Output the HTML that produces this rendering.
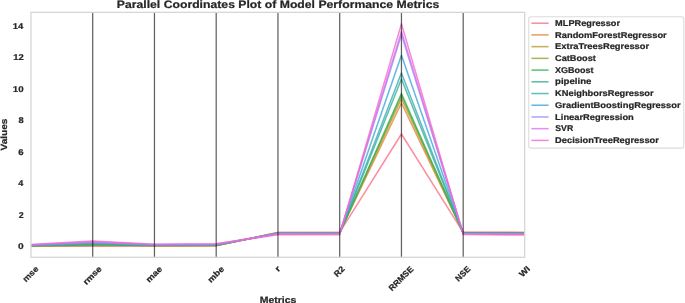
<!DOCTYPE html>
<html><head><meta charset="utf-8"><title>Parallel Coordinates Plot</title>
<style>html,body{margin:0;padding:0;background:#fff;width:685px;height:303px;overflow:hidden}svg{display:block;will-change:transform}text{font-family:"Liberation Sans",sans-serif;font-weight:bold;text-rendering:geometricPrecision}</style>
</head><body>
<svg width="685" height="303" viewBox="0 0 685 303">
<rect width="685" height="303" fill="#fff"/>
<defs><clipPath id="c"><rect x="30.95" y="12.35" width="493.75" height="244.95"/></clipPath></defs>
<g clip-path="url(#c)" fill="none" stroke-width="1.55" stroke-opacity="0.78" stroke-linejoin="round">
<polyline points="30.95,246.10 92.70,246.30 154.45,246.00 216.20,245.80 277.95,232.50 339.70,232.40 401.45,134.00 463.20,232.30 524.95,232.40" stroke="#f77189"/>
<polyline points="30.95,246.00 92.70,245.60 154.45,245.80 216.20,245.60 277.95,232.60 339.70,232.50 401.45,103.00 463.20,232.40 524.95,232.50" stroke="#e18632"/>
<polyline points="30.95,245.90 92.70,245.20 154.45,245.70 216.20,245.50 277.95,232.80 339.70,232.70 401.45,98.50 463.20,232.60 524.95,232.70" stroke="#b59a32"/>
<polyline points="30.95,245.80 92.70,244.90 154.45,245.60 216.20,245.40 277.95,232.90 339.70,232.80 401.45,95.50 463.20,232.70 524.95,232.80" stroke="#8ba731"/>
<polyline points="30.95,245.70 92.70,244.40 154.45,245.50 216.20,245.20 277.95,233.30 339.70,233.20 401.45,93.50 463.20,233.10 524.95,233.30" stroke="#32b258"/>
<polyline points="30.95,245.50 92.70,243.90 154.45,245.30 216.20,245.00 277.95,233.40 339.70,233.30 401.45,79.00 463.20,233.20 524.95,233.40" stroke="#35ae95"/>
<polyline points="30.95,245.40 92.70,243.60 154.45,245.20 216.20,244.90 277.95,233.40 339.70,233.30 401.45,73.00 463.20,233.20 524.95,233.50" stroke="#37abb2"/>
<polyline points="30.95,245.20 92.70,243.00 154.45,245.00 216.20,244.70 277.95,233.50 339.70,233.40 401.45,55.30 463.20,233.30 524.95,233.70" stroke="#39a7d6"/>
<polyline points="30.95,245.00 92.70,242.40 154.45,244.80 216.20,244.40 277.95,233.60 339.70,233.50 401.45,34.50 463.20,233.40 524.95,233.90" stroke="#8f93f4"/>
<polyline points="30.95,244.70 92.70,241.70 154.45,244.60 216.20,244.10 277.95,233.70 339.70,233.60 401.45,31.50 463.20,233.50 524.95,234.10" stroke="#db70f4"/>
<polyline points="30.95,244.40 92.70,241.00 154.45,244.30 216.20,243.80 277.95,234.70 339.70,234.60 401.45,23.90 463.20,234.50 524.95,235.00" stroke="#f667c6"/>
</g>
<line x1="92.70" y1="12.35" x2="92.70" y2="257.3" stroke="#000" stroke-opacity="0.62" stroke-width="1.25"/>
<line x1="154.45" y1="12.35" x2="154.45" y2="257.3" stroke="#000" stroke-opacity="0.62" stroke-width="1.25"/>
<line x1="216.20" y1="12.35" x2="216.20" y2="257.3" stroke="#000" stroke-opacity="0.62" stroke-width="1.25"/>
<line x1="277.95" y1="12.35" x2="277.95" y2="257.3" stroke="#000" stroke-opacity="0.62" stroke-width="1.25"/>
<line x1="339.70" y1="12.35" x2="339.70" y2="257.3" stroke="#000" stroke-opacity="0.62" stroke-width="1.25"/>
<line x1="401.45" y1="12.35" x2="401.45" y2="257.3" stroke="#000" stroke-opacity="0.62" stroke-width="1.25"/>
<line x1="463.20" y1="12.35" x2="463.20" y2="257.3" stroke="#000" stroke-opacity="0.62" stroke-width="1.25"/>
<rect x="30.95" y="12.35" width="493.75" height="244.95" fill="none" stroke="#d6d6d6" stroke-width="1.3"/>
<text x="18.05" y="249.30" font-size="8.40" font-family="&quot;Liberation Sans&quot;, sans-serif" font-weight="bold" stroke="#262626" stroke-width="0.22" stroke-linejoin="round" fill="#262626" textLength="5.67" lengthAdjust="spacingAndGlyphs" >0</text>
<text x="18.75" y="217.86" font-size="8.40" font-family="&quot;Liberation Sans&quot;, sans-serif" font-weight="bold" stroke="#262626" stroke-width="0.22" stroke-linejoin="round" fill="#262626" textLength="4.91" lengthAdjust="spacingAndGlyphs" >2</text>
<text x="18.32" y="186.32" font-size="8.40" font-family="&quot;Liberation Sans&quot;, sans-serif" font-weight="bold" stroke="#262626" stroke-width="0.22" stroke-linejoin="round" fill="#262626" textLength="5.03" lengthAdjust="spacingAndGlyphs" >4</text>
<text x="18.28" y="154.80" font-size="8.40" font-family="&quot;Liberation Sans&quot;, sans-serif" font-weight="bold" stroke="#262626" stroke-width="0.22" stroke-linejoin="round" fill="#262626" textLength="5.37" lengthAdjust="spacingAndGlyphs" >6</text>
<text x="18.42" y="123.30" font-size="8.40" font-family="&quot;Liberation Sans&quot;, sans-serif" font-weight="bold" stroke="#262626" stroke-width="0.22" stroke-linejoin="round" fill="#262626" textLength="5.17" lengthAdjust="spacingAndGlyphs" >8</text>
<text x="12.83" y="91.80" font-size="8.40" font-family="&quot;Liberation Sans&quot;, sans-serif" font-weight="bold" stroke="#262626" stroke-width="0.22" stroke-linejoin="round" fill="#262626" textLength="10.88" lengthAdjust="spacingAndGlyphs" >10</text>
<text x="13.17" y="60.36" font-size="8.40" font-family="&quot;Liberation Sans&quot;, sans-serif" font-weight="bold" stroke="#262626" stroke-width="0.22" stroke-linejoin="round" fill="#262626" textLength="10.53" lengthAdjust="spacingAndGlyphs" >12</text>
<text x="12.85" y="28.82" font-size="8.40" font-family="&quot;Liberation Sans&quot;, sans-serif" font-weight="bold" stroke="#262626" stroke-width="0.22" stroke-linejoin="round" fill="#262626" textLength="10.52" lengthAdjust="spacingAndGlyphs" >14</text>
<text x="-9.32" y="2.23" font-size="8.40" font-family="&quot;Liberation Sans&quot;, sans-serif" font-weight="bold" stroke="#262626" stroke-width="0.22" stroke-linejoin="round" fill="#262626" textLength="18.37" lengthAdjust="spacingAndGlyphs" transform="translate(31.06,274.31) rotate(-45)">mse</text>
<text x="-11.31" y="2.23" font-size="8.40" font-family="&quot;Liberation Sans&quot;, sans-serif" font-weight="bold" stroke="#262626" stroke-width="0.22" stroke-linejoin="round" fill="#262626" textLength="22.34" lengthAdjust="spacingAndGlyphs" transform="translate(92.82,275.70) rotate(-45)">rmse</text>
<text x="-9.66" y="2.23" font-size="8.40" font-family="&quot;Liberation Sans&quot;, sans-serif" font-weight="bold" stroke="#262626" stroke-width="0.22" stroke-linejoin="round" fill="#262626" textLength="19.05" lengthAdjust="spacingAndGlyphs" transform="translate(154.56,274.53) rotate(-45)">mae</text>
<text x="-9.83" y="3.00" font-size="8.40" font-family="&quot;Liberation Sans&quot;, sans-serif" font-weight="bold" stroke="#262626" stroke-width="0.22" stroke-linejoin="round" fill="#262626" textLength="19.39" lengthAdjust="spacingAndGlyphs" transform="translate(215.76,274.07) rotate(-45)">mbe</text>
<text x="-2.30" y="2.27" font-size="8.40" font-family="&quot;Liberation Sans&quot;, sans-serif" font-weight="bold" stroke="#262626" stroke-width="0.22" stroke-linejoin="round" fill="#262626" textLength="4.07" lengthAdjust="spacingAndGlyphs" transform="translate(278.15,268.98) rotate(-45)">r</text>
<text x="-5.73" y="2.94" font-size="8.40" font-family="&quot;Liberation Sans&quot;, sans-serif" font-weight="bold" stroke="#262626" stroke-width="0.22" stroke-linejoin="round" fill="#262626" textLength="11.28" lengthAdjust="spacingAndGlyphs" transform="translate(339.17,271.44) rotate(-45)">R2</text>
<text x="-15.66" y="2.90" font-size="8.40" font-family="&quot;Liberation Sans&quot;, sans-serif" font-weight="bold" stroke="#262626" stroke-width="0.22" stroke-linejoin="round" fill="#262626" textLength="31.07" lengthAdjust="spacingAndGlyphs" transform="translate(401.00,278.44) rotate(-45)">RRMSE</text>
<text x="-8.85" y="2.90" font-size="8.40" font-family="&quot;Liberation Sans&quot;, sans-serif" font-weight="bold" stroke="#262626" stroke-width="0.22" stroke-linejoin="round" fill="#262626" textLength="17.46" lengthAdjust="spacingAndGlyphs" transform="translate(462.75,273.64) rotate(-45)">NSE</text>
<text x="-5.42" y="2.90" font-size="8.40" font-family="&quot;Liberation Sans&quot;, sans-serif" font-weight="bold" stroke="#262626" stroke-width="0.22" stroke-linejoin="round" fill="#262626" textLength="11.47" lengthAdjust="spacingAndGlyphs" transform="translate(524.27,271.68) rotate(-45)">WI</text>
<text x="116.79" y="7.70" font-size="10.82" font-family="&quot;Liberation Sans&quot;, sans-serif" font-weight="bold" stroke="#262626" stroke-width="0.22" stroke-linejoin="round" fill="#262626" textLength="322.50" lengthAdjust="spacingAndGlyphs" >Parallel Coordinates Plot of Model Performance Metrics</text>
<text x="259.69" y="302.80" font-size="9.24" font-family="&quot;Liberation Sans&quot;, sans-serif" font-weight="bold" stroke="#262626" stroke-width="0.22" stroke-linejoin="round" fill="#262626" textLength="36.67" lengthAdjust="spacingAndGlyphs" >Metrics</text>
<text x="-15.76" y="3.21" font-size="8.99" font-family="&quot;Liberation Sans&quot;, sans-serif" font-weight="bold" stroke="#262626" stroke-width="0.22" stroke-linejoin="round" fill="#262626" textLength="31.86" lengthAdjust="spacingAndGlyphs" transform="translate(4.21,134.70) rotate(-90)">Values</text>
<rect x="528.75" y="16.7" width="155.05" height="131.4" rx="2.2" ry="2.2" fill="#fff" stroke="#dcdcdc" stroke-width="1.1"/>
<line x1="531.4" y1="23.20" x2="548.6" y2="23.20" stroke="#f77189" stroke-opacity="0.78" stroke-width="1.55"/>
<text x="555.13" y="25.85" font-size="8.44" font-family="&quot;Liberation Sans&quot;, sans-serif" font-weight="bold" stroke="#262626" stroke-width="0.22" stroke-linejoin="round" fill="#262626" textLength="64.87" lengthAdjust="spacingAndGlyphs" >MLPRegressor</text>
<line x1="531.4" y1="34.92" x2="548.6" y2="34.92" stroke="#e18632" stroke-opacity="0.78" stroke-width="1.55"/>
<text x="555.12" y="37.57" font-size="8.44" font-family="&quot;Liberation Sans&quot;, sans-serif" font-weight="bold" stroke="#262626" stroke-width="0.22" stroke-linejoin="round" fill="#262626" textLength="111.60" lengthAdjust="spacingAndGlyphs" >RandomForestRegressor</text>
<line x1="531.4" y1="46.64" x2="548.6" y2="46.64" stroke="#b59a32" stroke-opacity="0.78" stroke-width="1.55"/>
<text x="555.12" y="49.29" font-size="8.44" font-family="&quot;Liberation Sans&quot;, sans-serif" font-weight="bold" stroke="#262626" stroke-width="0.22" stroke-linejoin="round" fill="#262626" textLength="94.02" lengthAdjust="spacingAndGlyphs" >ExtraTreesRegressor</text>
<line x1="531.4" y1="58.36" x2="548.6" y2="58.36" stroke="#8ba731" stroke-opacity="0.78" stroke-width="1.55"/>
<text x="555.03" y="61.01" font-size="8.44" font-family="&quot;Liberation Sans&quot;, sans-serif" font-weight="bold" stroke="#262626" stroke-width="0.22" stroke-linejoin="round" fill="#262626" textLength="40.90" lengthAdjust="spacingAndGlyphs" >CatBoost</text>
<line x1="531.4" y1="70.08" x2="548.6" y2="70.08" stroke="#32b258" stroke-opacity="0.78" stroke-width="1.55"/>
<text x="555.07" y="72.73" font-size="8.44" font-family="&quot;Liberation Sans&quot;, sans-serif" font-weight="bold" stroke="#262626" stroke-width="0.22" stroke-linejoin="round" fill="#262626" textLength="38.48" lengthAdjust="spacingAndGlyphs" >XGBoost</text>
<line x1="531.4" y1="81.80" x2="548.6" y2="81.80" stroke="#35ae95" stroke-opacity="0.78" stroke-width="1.55"/>
<text x="555.06" y="84.45" font-size="8.44" font-family="&quot;Liberation Sans&quot;, sans-serif" font-weight="bold" stroke="#262626" stroke-width="0.22" stroke-linejoin="round" fill="#262626" textLength="36.33" lengthAdjust="spacingAndGlyphs" >pipeline</text>
<line x1="531.4" y1="93.52" x2="548.6" y2="93.52" stroke="#37abb2" stroke-opacity="0.78" stroke-width="1.55"/>
<text x="555.12" y="96.17" font-size="8.44" font-family="&quot;Liberation Sans&quot;, sans-serif" font-weight="bold" stroke="#262626" stroke-width="0.22" stroke-linejoin="round" fill="#262626" textLength="98.54" lengthAdjust="spacingAndGlyphs" >KNeighborsRegressor</text>
<line x1="531.4" y1="105.24" x2="548.6" y2="105.24" stroke="#39a7d6" stroke-opacity="0.78" stroke-width="1.55"/>
<text x="555.03" y="107.89" font-size="8.44" font-family="&quot;Liberation Sans&quot;, sans-serif" font-weight="bold" stroke="#262626" stroke-width="0.22" stroke-linejoin="round" fill="#262626" textLength="125.55" lengthAdjust="spacingAndGlyphs" >GradientBoostingRegressor</text>
<line x1="531.4" y1="116.96" x2="548.6" y2="116.96" stroke="#8f93f4" stroke-opacity="0.78" stroke-width="1.55"/>
<text x="555.12" y="119.61" font-size="8.44" font-family="&quot;Liberation Sans&quot;, sans-serif" font-weight="bold" stroke="#262626" stroke-width="0.22" stroke-linejoin="round" fill="#262626" textLength="78.69" lengthAdjust="spacingAndGlyphs" >LinearRegression</text>
<line x1="531.4" y1="128.68" x2="548.6" y2="128.68" stroke="#db70f4" stroke-opacity="0.78" stroke-width="1.55"/>
<text x="555.30" y="131.33" font-size="8.44" font-family="&quot;Liberation Sans&quot;, sans-serif" font-weight="bold" stroke="#262626" stroke-width="0.22" stroke-linejoin="round" fill="#262626" textLength="17.93" lengthAdjust="spacingAndGlyphs" >SVR</text>
<line x1="531.4" y1="140.40" x2="548.6" y2="140.40" stroke="#f667c6" stroke-opacity="0.78" stroke-width="1.55"/>
<text x="555.12" y="143.05" font-size="8.44" font-family="&quot;Liberation Sans&quot;, sans-serif" font-weight="bold" stroke="#262626" stroke-width="0.22" stroke-linejoin="round" fill="#262626" textLength="103.75" lengthAdjust="spacingAndGlyphs" >DecisionTreeRegressor</text>
</svg>
</body></html>
